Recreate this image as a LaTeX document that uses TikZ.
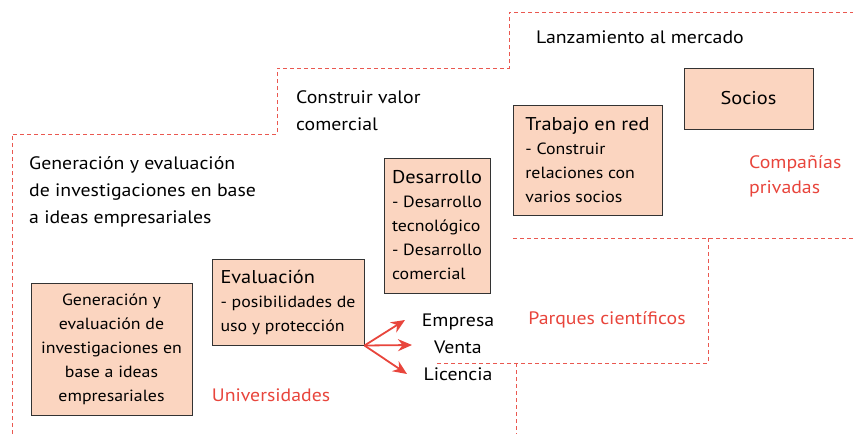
\documentclass[tikz,border=0pt]{standalone}
\usepackage{fontspec}
\setmainfont{PT Sans}[FakeStretch=1.1]
\usetikzlibrary{arrows.meta, positioning}
\definecolor{boxfill}{HTML}{FBD5C0}
\definecolor{zonered}{HTML}{E8453C}
\tikzstyle{stagebox}=[shape=rectangle,draw=black!80,fill=boxfill,line width=1pt,inner sep=0pt,font=\fontsize{16.2}{24}\selectfont]
\tikzstyle{plain}=[inner sep=0pt,font=\fontsize{18}{27}\selectfont]
\tikzstyle{zonelabel}=[inner sep=0pt,text=zonered,font=\fontsize{18}{25}\selectfont]
\tikzstyle{zoneline}=[draw=zonered!90,line width=0.9pt,dash pattern=on 4pt off 3pt]
\tikzstyle{outedge}=[-{Stealth[length=14pt,width=12pt]},draw=zonered,line width=1.8pt]
\newcommand{\boxhead}[1]{{\fontsize{18.5}{24}\selectfont #1}}

\begin{document}
\begin{tikzpicture}[x=1pt,y=-1pt]
\useasboundingbox (0,0) rectangle (853,434);
% zone borders
\draw[zoneline] (12,434) -- (12,134) -- (277,134) -- (277,68) -- (509,68) -- (509,12) -- (853,12);
\draw[zoneline] (513,238) -- (853,238);
\draw[zoneline] (708,238) -- (708,363) -- (435,363);
\draw[zoneline] (516,363) -- (516,434);

% stage titles
\node[plain] (launch) at (640,37) {Lanzamiento al mercado};
\node[plain,anchor=west,align=left] (value) at (296,111) {Construir valor\\comercial};
\node[plain,anchor=west,align=left] (research) at (29,192) {Generación y evaluación\\de investigaciones en base\\a ideas empresariales};

% stage boxes
\node[stagebox,minimum width=161pt,minimum height=132pt,align=center] (gen) at (111.5,349)
  {Generación y\\evaluación de\\investigaciones en\\base a ideas\\empresariales};
\node[stagebox,minimum width=152pt,minimum height=86pt,align=left] (eval) at (288,302)
  {\boxhead{Evaluación}\\- posibilidades de\\uso y protección};
\node[stagebox,minimum width=106pt,minimum height=135pt,align=left] (dev) at (437,225.5)
  {\boxhead{Desarrollo}\\- Desarrollo\\tecnológico\\- Desarrollo\\comercial};
\node[stagebox,minimum width=149pt,minimum height=110pt,align=left] (net) at (587.5,160)
  {\boxhead{Trabajo en red}\\- Construir\\relaciones con\\varios socios};
\node[stagebox,minimum width=129pt,minimum height=61pt] (partners) at (748.5,98.5) {\boxhead{Socios}};

% exits
\node[plain,align=center] (exits) at (458,347) {Empresa\\Venta\\Licencia};
\coordinate (toEmp) at (405,320);
\coordinate (toVen) at (412,345);
\coordinate (toLic) at (407,374);
\draw[outedge] (eval.south east) -- (toEmp);
\draw[outedge] (eval.south east) -- (toVen);
\draw[outedge] (eval.south east) -- (toLic);

% zones
\node[zonelabel] (uni) at (271,395) {Universidades};
\node[zonelabel] (parks) at (607,320) {Parques científicos};
\node[zonelabel,anchor=west,align=left] (firms) at (749,176) {Compañías\\privadas};
\end{tikzpicture}
\end{document}
